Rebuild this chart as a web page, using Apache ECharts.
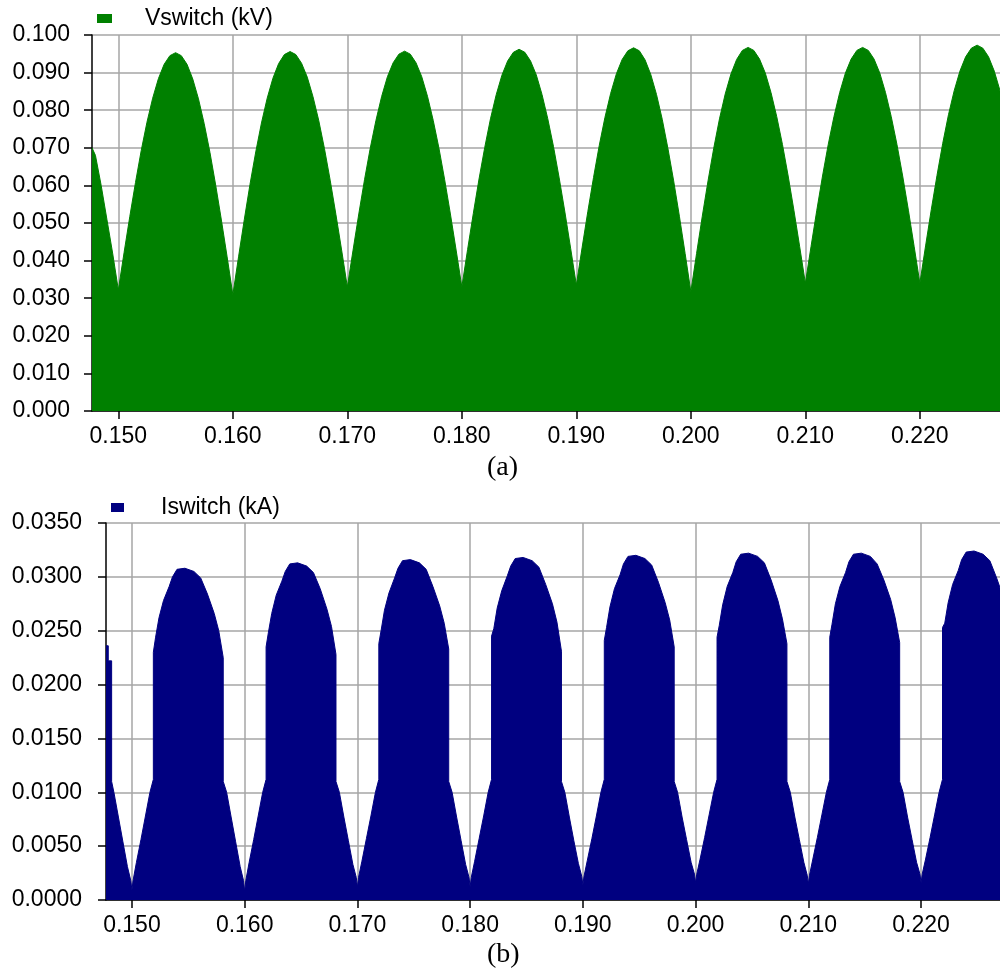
<!DOCTYPE html>
<html>
<head>
<meta charset="utf-8">
<script src="https://cdn.jsdelivr.net/npm/echarts@6/dist/echarts.min.js"></script>
<style>
  html, body { margin: 0; padding: 0; background: #fff; }
  #chartContainer { width: 1000px; height: 978px; }
</style>
</head>
<body>
<div id="chartContainer"></div>
<script>
// time ticks shared by both panels (s)
const timeTicks = [0.150, 0.160, 0.170, 0.180, 0.190, 0.200, 0.210, 0.220];

// (a) switch voltage envelope, kV
const vTime = [
  0.1477, 0.1480, 0.1485, 0.1490, 0.1495,
  0.1500, 0.1505, 0.1510, 0.1515, 0.1520, 0.1525, 0.1530, 0.1535, 0.1540, 0.1545, 0.1550, 0.1555, 0.1560, 0.1565, 0.1570, 0.1575, 0.1580, 0.1585, 0.1590, 0.1595,
  0.1600, 0.1605, 0.1610, 0.1615, 0.1620, 0.1625, 0.1630, 0.1635, 0.1640, 0.1645, 0.1650, 0.1655, 0.1660, 0.1665, 0.1670, 0.1675, 0.1680, 0.1685, 0.1690, 0.1695,
  0.1700, 0.1705, 0.1710, 0.1715, 0.1720, 0.1725, 0.1730, 0.1735, 0.1740, 0.1745, 0.1750, 0.1755, 0.1760, 0.1765, 0.1770, 0.1775, 0.1780, 0.1785, 0.1790, 0.1795,
  0.1800, 0.1805, 0.1810, 0.1815, 0.1820, 0.1825, 0.1830, 0.1835, 0.1840, 0.1845, 0.1850, 0.1855, 0.1860, 0.1865, 0.1870, 0.1875, 0.1880, 0.1885, 0.1890, 0.1895,
  0.1900, 0.1905, 0.1910, 0.1915, 0.1920, 0.1925, 0.1930, 0.1935, 0.1940, 0.1945, 0.1950, 0.1955, 0.1960, 0.1965, 0.1970, 0.1975, 0.1980, 0.1985, 0.1990, 0.1995,
  0.2000, 0.2005, 0.2010, 0.2015, 0.2020, 0.2025, 0.2030, 0.2035, 0.2040, 0.2045, 0.2050, 0.2055, 0.2060, 0.2065, 0.2070, 0.2075, 0.2080, 0.2085, 0.2090, 0.2095,
  0.2100, 0.2105, 0.2110, 0.2115, 0.2120, 0.2125, 0.2130, 0.2135, 0.2140, 0.2145, 0.2150, 0.2155, 0.2160, 0.2165, 0.2170, 0.2175, 0.2180, 0.2185, 0.2190, 0.2195,
  0.2200, 0.2205, 0.2210, 0.2215, 0.2220, 0.2225, 0.2230, 0.2235, 0.2240, 0.2245, 0.2250, 0.2255, 0.2260, 0.2265, 0.2270
];
const vSwitch = [
  0.0700, 0.0680, 0.0600, 0.0510, 0.0420,
  0.0322, 0.0421, 0.0517, 0.0608, 0.0693, 0.0768, 0.0832, 0.0884, 0.0922, 0.0945, 0.0953, 0.0945, 0.0922, 0.0883, 0.0830, 0.0764, 0.0688, 0.0601, 0.0508, 0.0410,
  0.0309, 0.0410, 0.0509, 0.0603, 0.0689, 0.0766, 0.0832, 0.0885, 0.0924, 0.0948, 0.0956, 0.0948, 0.0925, 0.0888, 0.0836, 0.0773, 0.0698, 0.0614, 0.0523, 0.0428,
  0.0330, 0.0428, 0.0524, 0.0615, 0.0699, 0.0773, 0.0837, 0.0889, 0.0926, 0.0949, 0.0957, 0.0949, 0.0926, 0.0889, 0.0837, 0.0773, 0.0699, 0.0615, 0.0524, 0.0428,
  0.0330, 0.0429, 0.0525, 0.0617, 0.0701, 0.0777, 0.0841, 0.0893, 0.0931, 0.0954, 0.0962, 0.0954, 0.0931, 0.0894, 0.0842, 0.0778, 0.0704, 0.0620, 0.0529, 0.0433,
  0.0335, 0.0434, 0.0530, 0.0621, 0.0706, 0.0781, 0.0845, 0.0897, 0.0935, 0.0958, 0.0966, 0.0958, 0.0934, 0.0895, 0.0842, 0.0776, 0.0698, 0.0612, 0.0518, 0.0419,
  0.0317, 0.0419, 0.0518, 0.0612, 0.0699, 0.0777, 0.0843, 0.0896, 0.0935, 0.0959, 0.0967, 0.0959, 0.0936, 0.0899, 0.0847, 0.0783, 0.0709, 0.0625, 0.0534, 0.0438,
  0.0340, 0.0438, 0.0534, 0.0625, 0.0709, 0.0783, 0.0847, 0.0899, 0.0936, 0.0959, 0.0967, 0.0959, 0.0936, 0.0899, 0.0847, 0.0783, 0.0709, 0.0625, 0.0534, 0.0438,
  0.0340, 0.0439, 0.0536, 0.0627, 0.0712, 0.0788, 0.0852, 0.0904, 0.0942, 0.0965, 0.0973, 0.0965, 0.0942, 0.0904, 0.0852
];

// (b) switch current envelope, kA (repeated times = vertical edges)
const iTime = [
  0.1477, 0.1479, 0.1479, 0.1482,
  0.1482, 0.1484, 0.1488, 0.1492, 0.1496, 0.1499, 0.1500, 0.1501, 0.1504, 0.1508, 0.1512, 0.1516, 0.1519, 0.1519,
  0.1521, 0.1524, 0.1528, 0.1533, 0.1536, 0.1540, 0.1547, 0.1555, 0.1561, 0.1567, 0.1573, 0.1577, 0.1581,
  0.1581, 0.1584, 0.1588, 0.1592, 0.1596, 0.1599, 0.1600, 0.1601, 0.1604, 0.1608, 0.1612, 0.1616, 0.1619, 0.1619,
  0.1621, 0.1624, 0.1628, 0.1633, 0.1636, 0.1640, 0.1647, 0.1655, 0.1661, 0.1667, 0.1673, 0.1677, 0.1681,
  0.1681, 0.1684, 0.1688, 0.1692, 0.1696, 0.1699, 0.1700, 0.1701, 0.1704, 0.1708, 0.1712, 0.1716, 0.1719, 0.1719,
  0.1721, 0.1724, 0.1728, 0.1733, 0.1736, 0.1740, 0.1747, 0.1755, 0.1761, 0.1767, 0.1773, 0.1777, 0.1781,
  0.1781, 0.1784, 0.1788, 0.1792, 0.1796, 0.1799, 0.1800, 0.1801, 0.1804, 0.1808, 0.1812, 0.1816, 0.1819, 0.1819,
  0.1821, 0.1824, 0.1828, 0.1833, 0.1836, 0.1840, 0.1847, 0.1855, 0.1861, 0.1867, 0.1873, 0.1877, 0.1881,
  0.1881, 0.1884, 0.1888, 0.1892, 0.1896, 0.1899, 0.1900, 0.1901, 0.1904, 0.1908, 0.1912, 0.1916, 0.1919, 0.1919,
  0.1921, 0.1924, 0.1928, 0.1933, 0.1936, 0.1940, 0.1947, 0.1955, 0.1961, 0.1967, 0.1973, 0.1977, 0.1981,
  0.1981, 0.1984, 0.1988, 0.1992, 0.1996, 0.1999, 0.2000, 0.2001, 0.2004, 0.2008, 0.2012, 0.2016, 0.2019, 0.2019,
  0.2021, 0.2024, 0.2028, 0.2033, 0.2036, 0.2040, 0.2047, 0.2055, 0.2061, 0.2067, 0.2073, 0.2077, 0.2081,
  0.2081, 0.2084, 0.2088, 0.2092, 0.2096, 0.2099, 0.2100, 0.2101, 0.2104, 0.2108, 0.2112, 0.2116, 0.2119, 0.2119,
  0.2121, 0.2124, 0.2128, 0.2133, 0.2136, 0.2140, 0.2147, 0.2155, 0.2161, 0.2167, 0.2173, 0.2177, 0.2181,
  0.2181, 0.2184, 0.2188, 0.2192, 0.2196, 0.2199, 0.2200, 0.2201, 0.2204, 0.2208, 0.2212, 0.2216, 0.2219, 0.2219,
  0.2221, 0.2224, 0.2228, 0.2233, 0.2236, 0.2240, 0.2247, 0.2255, 0.2261, 0.2267, 0.2270
];
const iSwitch = [
  0.0236, 0.0236, 0.0222, 0.0222,
  0.0110, 0.0100, 0.0077, 0.0054, 0.0031, 0.0018, 0.0009, 0.0018, 0.0035, 0.0056, 0.0078, 0.0100, 0.0112, 0.0230,
  0.0244, 0.0262, 0.0278, 0.0291, 0.0300, 0.0307, 0.0308, 0.0305, 0.0299, 0.0284, 0.0266, 0.0250, 0.0225,
  0.0110, 0.0100, 0.0077, 0.0054, 0.0031, 0.0018, 0.0008, 0.0018, 0.0035, 0.0056, 0.0078, 0.0100, 0.0112, 0.0235,
  0.0248, 0.0266, 0.0283, 0.0296, 0.0305, 0.0312, 0.0313, 0.0310, 0.0304, 0.0289, 0.0270, 0.0254, 0.0228,
  0.0110, 0.0100, 0.0077, 0.0055, 0.0033, 0.0021, 0.0012, 0.0021, 0.0036, 0.0057, 0.0078, 0.0100, 0.0112, 0.0238,
  0.0250, 0.0269, 0.0285, 0.0299, 0.0308, 0.0315, 0.0316, 0.0313, 0.0307, 0.0291, 0.0273, 0.0257, 0.0233,
  0.0110, 0.0100, 0.0077, 0.0055, 0.0033, 0.0021, 0.0012, 0.0021, 0.0036, 0.0057, 0.0078, 0.0100, 0.0112, 0.0245,
  0.0252, 0.0271, 0.0287, 0.0301, 0.0310, 0.0317, 0.0318, 0.0315, 0.0309, 0.0293, 0.0275, 0.0258, 0.0231,
  0.0110, 0.0100, 0.0077, 0.0055, 0.0034, 0.0022, 0.0014, 0.0022, 0.0037, 0.0057, 0.0078, 0.0100, 0.0112, 0.0241,
  0.0253, 0.0272, 0.0289, 0.0302, 0.0312, 0.0319, 0.0320, 0.0317, 0.0311, 0.0295, 0.0276, 0.0260, 0.0235,
  0.0110, 0.0100, 0.0077, 0.0056, 0.0035, 0.0024, 0.0016, 0.0024, 0.0038, 0.0058, 0.0079, 0.0100, 0.0112, 0.0244,
  0.0255, 0.0274, 0.0291, 0.0304, 0.0314, 0.0321, 0.0322, 0.0319, 0.0313, 0.0297, 0.0278, 0.0261, 0.0238,
  0.0110, 0.0100, 0.0077, 0.0056, 0.0035, 0.0023, 0.0015, 0.0023, 0.0038, 0.0058, 0.0079, 0.0100, 0.0112, 0.0244,
  0.0256, 0.0275, 0.0291, 0.0304, 0.0314, 0.0321, 0.0322, 0.0319, 0.0312, 0.0297, 0.0279, 0.0262, 0.0239,
  0.0110, 0.0100, 0.0077, 0.0056, 0.0035, 0.0024, 0.0016, 0.0024, 0.0038, 0.0058, 0.0079, 0.0100, 0.0112, 0.0253,
  0.0257, 0.0276, 0.0293, 0.0306, 0.0316, 0.0323, 0.0324, 0.0321, 0.0315, 0.0299, 0.0290
];

const FONT = "'Liberation Sans', Arial, sans-serif";
const SERIF = "'Liberation Serif', 'Times New Roman', serif";
const GRID_COLOR = '#a6a6a6';

function pairs(xs, ys) {
  const n = Math.min(xs.length, ys.length);
  const out = [];
  for (let i = 0; i < n; i++) out.push([xs[i], ys[i]]);
  return out;
}

function timeAxis(gridIndex) {
  return {
    type: 'value', gridIndex: gridIndex,
    min: 0.1477, max: 0.2270,
    axisLine: { show: true, onZero: false, lineStyle: { color: '#000', width: 1.5 } },
    axisTick: { show: true, customValues: timeTicks, length: 8, lineStyle: { color: '#000', width: 1.5 } },
    axisLabel: { customValues: timeTicks, formatter: v => v.toFixed(3), color: '#000', fontFamily: FONT, fontSize: 23, margin: 14 },
    splitLine: { show: true, lineStyle: { color: GRID_COLOR, width: 1.5 } }
  };
}

function valueAxis(gridIndex, max, interval, digits, margin) {
  return {
    type: 'value', gridIndex: gridIndex,
    min: 0, max: max, interval: interval,
    axisLine: { show: true, lineStyle: { color: '#000', width: 1.5 } },
    axisTick: { show: true, length: 8, lineStyle: { color: '#000', width: 1.5 } },
    axisLabel: { formatter: v => v.toFixed(digits), color: '#000', fontFamily: FONT, fontSize: 23, margin: margin },
    splitLine: { show: true, lineStyle: { color: GRID_COLOR, width: 1.5 } }
  };
}

var myChart = echarts.init(document.getElementById('chartContainer'), null, { renderer: 'canvas' });

myChart.setOption({
  animation: false,
  backgroundColor: '#fff',
  title: [
    { text: '(a)', left: 487, top: 454, padding: 0,
      textStyle: { fontFamily: SERIF, fontSize: 28, fontWeight: 'normal', color: '#000' } },
    { text: '(b)', left: 487, top: 941, padding: 0,
      textStyle: { fontFamily: SERIF, fontSize: 28, fontWeight: 'normal', color: '#000' } }
  ],
  legend: [
    { data: ['Vswitch (kV)'], left: 97, top: 7, padding: 0, icon: 'rect', itemWidth: 15, itemHeight: 9,
      textStyle: { fontFamily: FONT, fontSize: 23, color: '#000', padding: [0, 0, 0, 28] } },
    { data: ['Iswitch (kA)'], left: 111, top: 496, padding: 0, icon: 'rect', itemWidth: 13, itemHeight: 9,
      textStyle: { fontFamily: FONT, fontSize: 23, color: '#000', padding: [0, 0, 0, 32] } }
  ],
  grid: [
    { left: 92, top: 35, right: 0, height: 376 },
    { left: 106, top: 523, right: 0, height: 377 }
  ],
  xAxis: [timeAxis(0), timeAxis(1)],
  yAxis: [
    valueAxis(0, 0.100, 0.010, 3, 22),
    valueAxis(1, 0.035, 0.005, 4, 24)
  ],
  series: [
    {
      name: 'Vswitch (kV)', type: 'line', xAxisIndex: 0, yAxisIndex: 0,
      data: pairs(vTime, vSwitch),
      showSymbol: false, symbol: 'none',
      itemStyle: { color: '#008000' },
      lineStyle: { color: '#008000', width: 1 },
      areaStyle: { color: '#008000', opacity: 1 }
    },
    {
      name: 'Iswitch (kA)', type: 'line', xAxisIndex: 1, yAxisIndex: 1,
      data: pairs(iTime, iSwitch),
      showSymbol: false, symbol: 'none',
      itemStyle: { color: '#000080' },
      lineStyle: { color: '#000080', width: 1 },
      areaStyle: { color: '#000080', opacity: 1 }
    }
  ]
});
</script>
</body>
</html>
